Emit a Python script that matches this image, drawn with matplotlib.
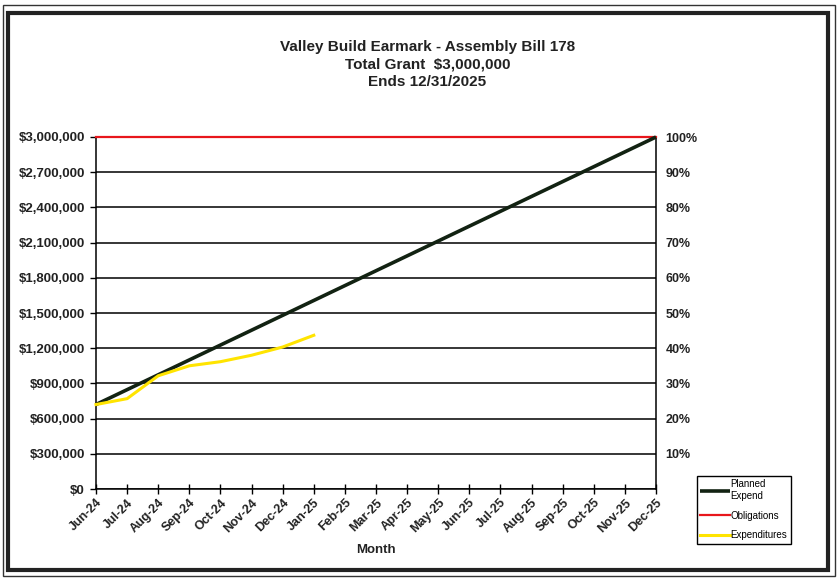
import matplotlib
matplotlib.use("Agg")
import matplotlib.pyplot as plt
from matplotlib.patches import Rectangle
from matplotlib.ticker import FuncFormatter, MultipleLocator

plt.rcParams['font.family'] = ['Liberation Sans', 'DejaVu Sans']

months = ['Jun-24', 'Jul-24', 'Aug-24', 'Sep-24', 'Oct-24', 'Nov-24', 'Dec-24',
          'Jan-25', 'Feb-25', 'Mar-25', 'Apr-25', 'May-25', 'Jun-25', 'Jul-25',
          'Aug-25', 'Sep-25', 'Oct-25', 'Nov-25', 'Dec-25']
planned = [720000, 846667, 973333, 1100000, 1226667, 1353333, 1480000,
           1606667, 1733333, 1860000, 1986667, 2113333, 2240000, 2366667,
           2493333, 2620000, 2746667, 2873333, 3000000]
obligations = [3000000] * 19
expenditures = [720000, 770000, 965000, 1050000, 1085000, 1140000, 1210000, 1310000]
pct_ticks = [10, 20, 30, 40, 50, 60, 70, 80, 90, 100]

fig = plt.figure(figsize=(8.38, 5.78), dpi=100)
W, H = 838, 578

# double frame around the whole chart
fig.patches.append(Rectangle((2.5 / W, 2.5 / H), 832 / W, 571 / H, transform=fig.transFigure,
                             fill=False, lw=1.0, ec='#333333'))
fig.patches.append(Rectangle((8 / W, 8 / H), 820 / W, 557 / H, transform=fig.transFigure,
                             fill=False, lw=3.0, ec='#222222'))

ax = fig.add_axes([96 / W, 89 / H, 560 / W, 352 / H])
xs = list(range(len(months)))

ax.grid(axis='y', color='black', lw=1.1)
ax.set_axisbelow(True)
ax.plot(xs, planned, color='#122212', lw=2.6, solid_capstyle='butt', label='Planned\nExpend',
        clip_on=False, zorder=4)
ax.plot(xs, obligations, color='#e8161c', lw=1.6, label='Obligations', clip_on=False, zorder=3)
ax.plot(xs[:len(expenditures)], expenditures, color='#ffe400', lw=2.2, label='Expenditures',
        clip_on=False, zorder=5)

ax.set_xlim(0, len(months) - 1)
ax.set_ylim(0, 3000000)
ax.yaxis.set_major_locator(MultipleLocator(300000))
ax.yaxis.set_major_formatter(FuncFormatter(lambda v, p: '$0' if v == 0 else '${:,.0f}'.format(v)))
ax.set_xticks(xs)
ax.set_xticklabels(months, rotation=45, ha='right', rotation_mode='anchor')
ax.tick_params(axis='x', direction='inout', length=7, width=1, labelsize=9, pad=2)
ax.tick_params(axis='y', direction='out', length=4, width=1, labelsize=9.5, pad=4)
for lab in ax.get_xticklabels() + ax.get_yticklabels():
    lab.set_fontweight('bold')
    lab.set_color('#222222')
ax.spines['top'].set_visible(False)
for s in ('left', 'bottom', 'right'):
    ax.spines[s].set_linewidth(1.1)
ax.set_xlabel('Month', fontsize=9.5, fontweight='bold', color='#222222', labelpad=6)

ax2 = ax.twinx()
ax2.set_ylim(0, 100)
ax2.set_yticks(pct_ticks)
ax2.set_yticklabels([f'{p}%' for p in pct_ticks])
ax2.tick_params(axis='y', length=0, pad=7, labelsize=9)
for lab in ax2.get_yticklabels():
    lab.set_fontweight('bold')
    lab.set_color('#222222')
for s in ax2.spines.values():
    s.set_visible(False)

fig.text(0.51, 1 - 40 / H, 'Valley Build Earmark - Assembly Bill 178\nTotal Grant  $3,000,000\nEnds 12/31/2025',
         ha='center', va='top', fontsize=11, fontweight='bold', color='#222222', linespacing=1.3)

fig.legend(loc='upper left', bbox_to_anchor=(697 / W, 1 - 476 / H), fontsize=7,
           frameon=True, fancybox=False, edgecolor='black', framealpha=1,
           handlelength=3, handletextpad=0.1, borderpad=0.35, labelspacing=1.0,
           borderaxespad=0)

fig.savefig('out.png', dpi=100)
